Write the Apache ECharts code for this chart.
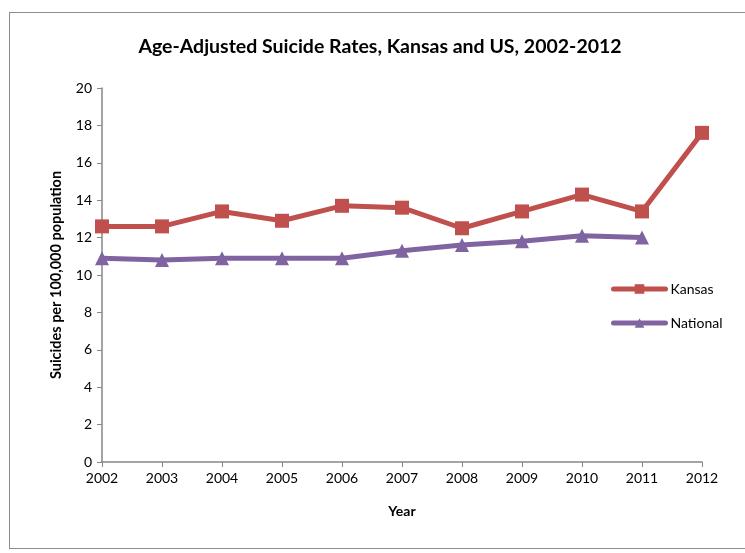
<!DOCTYPE html>
<html><head><meta charset="utf-8">
<script src="https://cdn.jsdelivr.net/npm/echarts@6/dist/echarts.min.js"></script>
<style>html,body{margin:0;padding:0;background:#fff}#c{width:745px;height:553px}
#frame{position:absolute;left:9px;top:12px;width:740px;height:537px;border:1.5px solid #8c8c8c;box-sizing:border-box;pointer-events:none}</style>
</head><body><div id="c"></div><div id="frame"></div>
<script>
const years = ['2002','2003','2004','2005','2006','2007','2008','2009','2010','2011','2012'];
const kansas = [12.6,12.6,13.4,12.9,13.7,13.6,12.5,13.4,14.3,13.4,17.6];
const national = [10.9,10.8,10.9,10.9,10.9,11.3,11.6,11.8,12.1,12.0,null];
const F = 'Lato, "Open Sans", sans-serif';
const chart = echarts.init(document.getElementById('c'));
chart.setOption({
  animation:false,
  title:{text:'Age-Adjusted Suicide Rates, Kansas and US, 2002-2012',left:375,textAlign:'center',top:32,
    textStyle:{fontFamily:F,fontSize:19.5,fontWeight:'bold',color:'#000'}},
  legend:{orient:'vertical',left:606,top:277,itemGap:20,itemWidth:52,itemHeight:12,
    lineStyle:{width:5,cap:'round'},
    textStyle:{fontFamily:F,fontSize:14,color:'#000'},
    data:['Kansas','National']},
  grid:{left:102,right:43,top:88,bottom:91},
  xAxis:{type:'category',data:years,boundaryGap:false,name:'Year',nameLocation:'middle',nameGap:42,
    nameTextStyle:{fontFamily:F,fontSize:14,fontWeight:'bold',color:'#000'},
    axisLine:{lineStyle:{color:'#868686',width:1.5}},axisTick:{show:true,length:5,lineStyle:{color:'#868686'}},
    axisLabel:{fontFamily:F,fontSize:14,color:'#000',margin:9},splitLine:{show:false}},
  yAxis:{type:'value',min:0,max:20,interval:2,name:'Suicides per 100,000 population',nameLocation:'middle',nameGap:38,
    nameTextStyle:{fontFamily:F,fontSize:14.5,fontWeight:'bold',color:'#000'},
    axisLine:{show:true,lineStyle:{color:'#868686',width:1.5}},axisTick:{show:true,length:5,lineStyle:{color:'#868686'}},
    axisLabel:{fontFamily:F,fontSize:14,color:'#000',margin:10},splitLine:{show:false}},
  series:[
    {name:'Kansas',type:'line',data:kansas,symbol:'rect',symbolSize:14,color:'#C0504D',
      lineStyle:{width:5,color:'#C0504D'},itemStyle:{color:'#C0504D'}},
    {name:'National',type:'line',data:national,symbol:'triangle',symbolSize:14,color:'#8064A2',
      lineStyle:{width:5,color:'#8064A2'},itemStyle:{color:'#8064A2'}}
  ]
});
</script></body></html>
